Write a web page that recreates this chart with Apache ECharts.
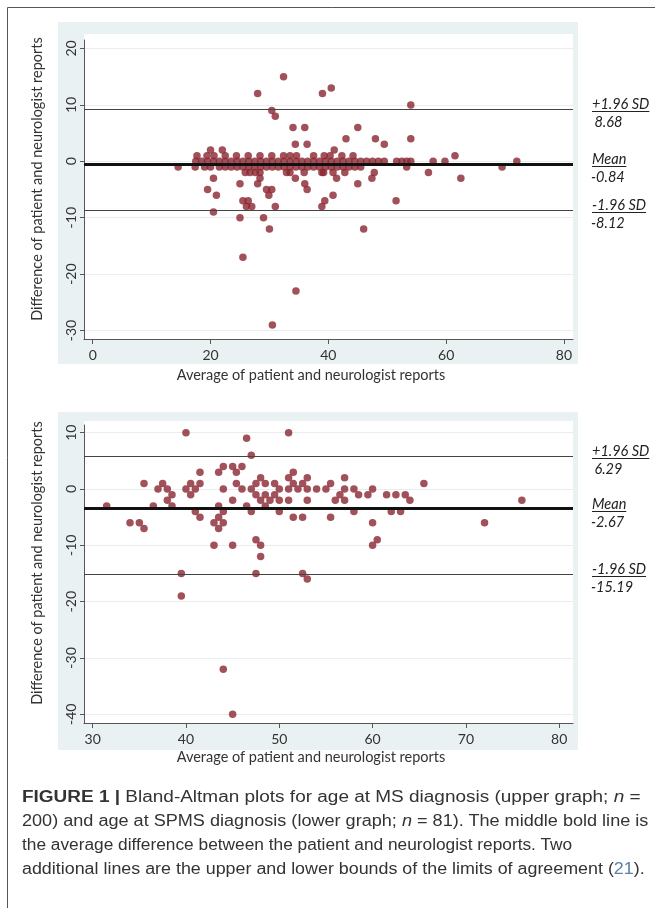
<!DOCTYPE html>
<html><head><meta charset="utf-8">
<script src="https://cdn.jsdelivr.net/npm/echarts@6/dist/echarts.min.js"></script>
<style>
html,body{margin:0;padding:0;background:#fff;}
#wrap{position:relative;width:655px;height:908px;overflow:hidden;background:#fff;}
#chart{position:absolute;left:0;top:0;width:655px;height:908px;}
.sl{position:absolute;font-family:Lato,'Open Sans',sans-serif;font-style:italic;font-size:14.5px;color:#222;white-space:pre;line-height:16px;}
.u{text-decoration:underline;text-underline-offset:2px;}
.cap{position:absolute;left:22px;font-family:'Liberation Sans',Arial,sans-serif;font-size:16px;color:#333;white-space:nowrap;line-height:20px;transform-origin:0 50%;}
.cite{color:#5a7fa8;}
</style></head>
<body><div id="wrap"><div id="chart"></div>
<div class="cap" id="c1"><b>FIGURE 1 |</b> Bland-Altman plots for age at MS diagnosis (upper graph; <i>n</i> =</div>
<div class="cap" id="c2">200) and age at SPMS diagnosis (lower graph; <i>n</i> = 81). The middle bold line is</div>
<div class="cap" id="c3">the average difference between the patient and neurologist reports. Two</div>
<div class="cap" id="c4">additional lines are the upper and lower bounds of the limits of agreement (<span class="cite">21</span>).</div>
</div>
<script>
// ---------- DATA ----------
const xTitle = 'Average of patient and neurologist reports';
const yTitle = 'Difference of patient and neurologist reports';
const limitNames = ['+1.96 SD', 'Mean', '-1.96 SD'];

// Upper graph (age at MS diagnosis)
const topXTicks = [0, 20, 40, 60, 80];
const topYTicks = [-30, -20, -10, 0, 10, 20];
const topLimits = [9.3, -0.5, -8.7];          // drawn line positions
const topLimitText = [' 8.68', '-0.84', '-8.12'];
const topPoints = [
  [32.4,15],[28,12],[39,12],[40.5,13],[30.4,9],[31,8],[54,10],
  [34,6],[36,6],[45,6],[43,4],[48,4],[54,4],
  [34.4,3],[36.4,3],[49.5,3],
  [20,2],[22,2],[41,2],
  [17.7,1],[19.4,1],[20.6,1],[22.5,1],[24.4,1],[26.4,1],[28.4,1],[30.4,1],[32.4,1],[33.5,1],[34.6,1],[37.5,1],[39.3,1],[40.3,1],[42.3,1],[44.2,1],[61.5,1],
  [17.5,0],[18.5,0],[19.5,0],[20.5,0],[21.5,0],[22.5,0],[23.5,0],[24.5,0],[25.5,0],[26.5,0],[27.5,0],[28.5,0],[29.5,0],[30.5,0],[31.5,0],[32.5,0],[33.5,0],[34.5,0],[35.5,0],[36.5,0],[37.5,0],[38.5,0],[39.5,0],[40.5,0],[41.5,0],[42.5,0],[43.5,0],[44.5,0],[45.5,0],[46.5,0],[47.5,0],[48.5,0],[49.5,0],[51.6,0],[52.5,0],[53.3,0],[54,0],[57.8,0],[59.8,0],[72,0],
  [14.5,-1],[17.4,-1],[19,-1],[20,-1],[21.5,-1],[22.5,-1],[23.5,-1],[24.5,-1],[25.5,-1],[26.5,-1],[27.5,-1],[28.5,-1],[29.5,-1],[30.5,-1],[31.5,-1],[32.5,-1],[33.5,-1],[34.5,-1],[35.5,-1],[36.5,-1],[37.5,-1],[38.5,-1],[39.5,-1],[40.5,-1],[41.5,-1],[42.5,-1],[43.5,-1],[44.5,-1],[45.5,-1],[53.3,-1],[69.5,-1],
  [25.9,-2],[26.7,-2],[27.6,-2],[28.4,-2],[32.9,-2],[33.5,-2],[35.9,-2],[38.9,-2],[39.2,-2],[40.8,-2],[42.8,-2],[47.8,-2],[57,-2],
  [20.5,-3],[28.4,-3],[34.4,-3],[41.4,-3],[47.4,-3],[62.5,-3],
  [25,-4],[28,-4],[36,-4],[45,-4],
  [19.5,-5],[29.5,-5],[30.4,-5],[36.4,-5],
  [21,-6],[29.9,-6],[40.8,-6],
  [25.5,-7],[26.4,-7],[39.4,-7],[51.5,-7],
  [26.1,-8],[27,-8],[31,-8],[38.9,-8],
  [20.5,-9],[25,-10],[29,-10],[30,-12],[46,-12],
  [25.5,-17],[34.5,-23],[30.5,-29]
];

// Lower graph (age at SPMS diagnosis)
const botXTicks = [30, 40, 50, 60, 70, 80];
const botYTicks = [-40, -30, -20, -10, 0, 10];
const botLimits = [5.9, -3.5, -15.15];
const botLimitText = [' 6.29', '-2.67', '-15.19'];
const botPoints = [
  [31.5,-3],[34,-6],[35,-6],[35.5,-7],[35.5,1],[36.5,-3],[37,0],[37.5,1],[38,0],[38,-2],
  [38.5,-1],[38.5,-3],[40,10],[40,0],[40.5,1],[40.5,-1],[41,0],[41,-4],[41.5,3],[41.5,1],
  [41.5,-5],[43,-6],[43,-10],[43.5,3],[43.5,-3],[43.5,-5],[43.5,-7],[44,4],[44,0],[44,-4],
  [44,-6],[45,4],[45,-2],[45,-10],[45.4,3],[45.4,1],[46,4],[46,0],[46.5,9],[46.5,-3],
  [47,6],[47,0],[47,-4],[47.5,1],[47.5,-1],[47.5,-9],[48,2],[48,-2],[48,-10],[48,-12],
  [48.5,1],[48.5,-1],[48.5,-3],[49,-2],[49.5,1],[49.5,-1],[50,0],[50,-2],[50,-4],[51,10],
  [51,2],[51,0],[51,-2],[51.5,3],[51.5,1],[51.5,-5],[52,0],[52.5,1],[52.5,-5],[53,2],
  [53,0],[53,-2],[54,0],[55,0],[55.5,1],[55.5,-5],[56,-2],[56.5,-1],[57,2],[57,0],
  [57,-2],[58,0],[58,-4],[58.5,-1],[59.5,-1],[60,0],[60,-6],[60.5,-9],[60,-10],[61.5,-1],
  [62,-4],[62.5,-1],[63,-4],[63.5,-1],[64,-2],[65.5,1],[72,-6],[76,-2],
  [39.5,-15],[39.5,-19],[44,-32],[45,-40],[47.5,-15],[52.5,-15],[53,-16]
];

// ---------- CHART ----------
const dotColor = '#8a2630';
const axisColor = '#555';
const labelFont = {color:'#333', fontFamily:'Lato', fontSize:14};

function xAxisCfg(gi, min, max, ticks){
  return {type:'value', gridIndex:gi, min:min, max:max,
    axisLine:{show:true, onZero:false, lineStyle:{color:axisColor, width:1}},
    axisTick:{show:true, length:5, customValues:ticks, lineStyle:{color:axisColor}},
    axisLabel:Object.assign({customValues:ticks, margin:9}, labelFont),
    splitLine:{show:false}};
}
function yAxisCfg(gi, min, max, ticks){
  return {type:'value', gridIndex:gi, min:min, max:max,
    axisLine:{show:true, onZero:false, lineStyle:{color:axisColor, width:1}},
    axisTick:{show:true, length:4, customValues:ticks, lineStyle:{color:axisColor}},
    axisLabel:Object.assign({customValues:ticks, margin:6, rotate:90}, labelFont),
    splitLine:{show:true, lineStyle:{color:'#e7eef0', width:1}}};
}
function limitLines(lims){
  return {silent:true, symbol:'none', label:{show:false},
    data: lims.map((v,i)=>({yAxis:v, lineStyle:{color: i===1?'#111':'#444', width: i===1?3:1, type:'solid'}}))};
}

const chart = echarts.init(document.getElementById('chart'), null, {renderer:'canvas'});
const option = {
  animation:false,
  backgroundColor:'transparent',
  grid:[
    {left:84, top:40, width:489, height:299, show:false},
    {left:84, top:425, width:489, height:298, show:false}
  ],
  xAxis:[ xAxisCfg(0, -1.48, 81.54, topXTicks), xAxisCfg(1, 29.07, 81.48, botXTicks) ],
  yAxis:[ yAxisCfg(0, -31.5, 21.5, topYTicks), yAxisCfg(1, -41.55, 11.37, botYTicks) ],
  graphic:{elements:[
    {type:'rect', z:-20, shape:{x:58, y:22, width:520, height:342}, style:{fill:'#eaf1f3'}},
    {type:'rect', z:-19, shape:{x:84, y:34, width:489, height:305}, style:{fill:'#ffffff'}},
    {type:'rect', z:-20, shape:{x:58, y:412, width:520, height:338}, style:{fill:'#eaf1f3'}},
    {type:'rect', z:-19, shape:{x:84, y:421, width:489, height:302}, style:{fill:'#ffffff'}},
    {type:'line', z:10, shape:{x1:7.5, y1:7.5, x2:655, y2:7.5}, style:{stroke:'#555', lineWidth:1}},
    {type:'line', z:10, shape:{x1:7.5, y1:7.5, x2:7.5, y2:908}, style:{stroke:'#555', lineWidth:1}},
    {type:'text', z:10, x:311, y:375, style:{text:xTitle, align:'center', verticalAlign:'middle', fill:'#333', font:'14.5px Lato'}},
    {type:'text', z:10, x:311, y:757, style:{text:xTitle, align:'center', verticalAlign:'middle', fill:'#333', font:'14.5px Lato'}},
    {type:'text', z:10, x:37, y:179, rotation:Math.PI/2, style:{text:yTitle, align:'center', verticalAlign:'middle', fill:'#333', font:'14.5px Lato'}},
    {type:'text', z:10, x:37, y:563, rotation:Math.PI/2, style:{text:yTitle, align:'center', verticalAlign:'middle', fill:'#333', font:'14.5px Lato'}}
  ]},
  series:[
    {type:'scatter', xAxisIndex:0, yAxisIndex:0, data:topPoints, symbol:'circle', symbolSize:7.5,
     itemStyle:{color:dotColor}, markLine:limitLines(topLimits)},
    {type:'scatter', xAxisIndex:1, yAxisIndex:1, data:botPoints, symbol:'circle', symbolSize:7.5,
     itemStyle:{color:dotColor}, markLine:limitLines(botLimits)}
  ]
};
chart.setOption(option);

// side labels for the limit lines
const wrap = document.getElementById('wrap');
function addSide(axisIdx, lims, texts){
  lims.forEach((v,i)=>{
    const py = chart.convertToPixel({yAxisIndex:axisIdx}, v);
    const n = document.createElement('div');
    n.className = 'sl u'; n.textContent = limitNames[i];
    n.style.left = '592px'; n.style.top = (py - 5 - 8) + 'px';
    wrap.appendChild(n);
    const t = document.createElement('div');
    t.className = 'sl'; t.textContent = texts[i];
    t.style.left = '591px'; t.style.top = (py + 13 - 8) + 'px';
    wrap.appendChild(t);
  });
}
addSide(0, topLimits, topLimitText);
addSide(1, botLimits, botLimitText);

// caption lines, each fitted to its measured width in the reference
const capTops = [787, 811, 835, 859];
const capWidths = [619, 626, 550, 623];
['c1','c2','c3','c4'].forEach((id,i)=>{
  const el = document.getElementById(id);
  el.style.top = capTops[i] + 'px';
  const w = el.scrollWidth;
  el.style.transform = 'scaleX(' + (capWidths[i] / w).toFixed(4) + ')';
});
</script>
</body></html>
